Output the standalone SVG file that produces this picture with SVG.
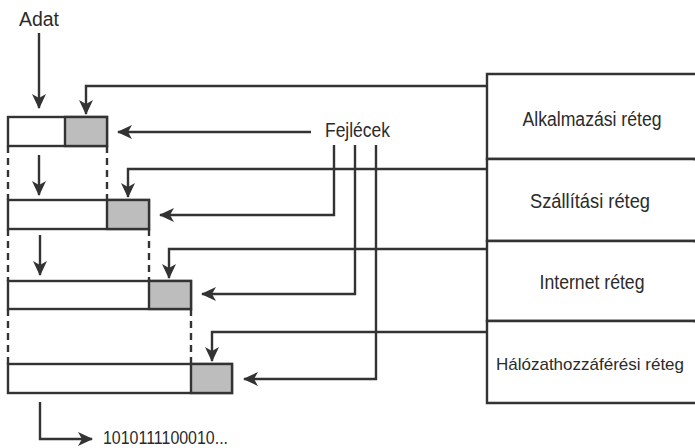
<svg xmlns="http://www.w3.org/2000/svg" width="695" height="448" viewBox="0 0 695 448">
<style>
  .ln{fill:none;stroke:#333;stroke-width:2.4}
  .arr{fill:none;stroke:#333;stroke-width:2.4;marker-end:url(#ah)}
  .dash{fill:none;stroke:#333;stroke-width:2.4;stroke-dasharray:7 5}
  .box{fill:#fff;stroke:#333;stroke-width:2.4}
  .hdr{fill:#bdbdbd;stroke:#333;stroke-width:2.4}
  .bg{fill:#fff;stroke:none}
  .t{font-family:"Liberation Sans",Arial,sans-serif;font-size:20px;fill:#2b2b2b}
  .c{text-anchor:middle}
</style>
<defs>
  <marker id="ah" viewBox="0 0 15 14" refX="14" refY="7" markerWidth="15" markerHeight="14" markerUnits="userSpaceOnUse" orient="auto">
    <path d="M0,0 L15,7 L0,14 L4,7 z" fill="#333"/>
  </marker>
</defs>

<g id="layers">
  <g id="layer-app">
    <rect class="bg" x="487" y="74" width="206" height="85"/>
    <path class="ln" d="M695,74 H487 V159 H695"/>
    <text class="t c" x="592" y="126" textLength="139" lengthAdjust="spacingAndGlyphs">Alkalmazási réteg</text>
  </g>
  <g id="layer-transport">
    <rect class="bg" x="487" y="159" width="206" height="82"/>
    <path class="ln" d="M695,159 H487 V241 H695"/>
    <text class="t c" x="590" y="208" textLength="120" lengthAdjust="spacingAndGlyphs">Szállítási réteg</text>
  </g>
  <g id="layer-internet">
    <rect class="bg" x="487" y="241" width="206" height="80"/>
    <path class="ln" d="M695,241 H487 V321 H695"/>
    <text class="t c" x="592" y="289" textLength="105" lengthAdjust="spacingAndGlyphs">Internet réteg</text>
  </g>
  <g id="layer-link">
    <rect class="bg" x="487" y="321" width="206" height="82"/>
    <path class="ln" d="M695,321 H487 V403 H695"/>
    <text class="t c" x="590" y="370" style="font-size:17px">Hálózathozzáférési réteg</text>
  </g>
</g>

<g id="packets">
  <g id="packet-1">
    <rect class="box" x="8" y="117" width="99" height="29"/>
    <rect class="hdr" x="65" y="117" width="42" height="29"/>
  </g>
  <g id="packet-2">
    <rect class="box" x="8" y="200" width="141" height="29"/>
    <rect class="hdr" x="107" y="200" width="42" height="29"/>
  </g>
  <g id="packet-3">
    <rect class="box" x="8" y="281" width="183" height="28"/>
    <rect class="hdr" x="149" y="281" width="42" height="28"/>
  </g>
  <g id="packet-4">
    <rect class="box" x="8" y="364" width="224" height="29"/>
    <rect class="hdr" x="191" y="364" width="41" height="29"/>
  </g>
</g>

<g id="label-adat">
  <text class="t" x="19" y="26" textLength="40" lengthAdjust="spacingAndGlyphs">Adat</text>
</g>
<g id="label-fejlecek">
  <text class="t" x="325" y="137" textLength="65" lengthAdjust="spacingAndGlyphs">Fejlécek</text>
</g>
<g id="label-bits">
  <text class="t" x="103" y="444" style="font-size:18px" textLength="125" lengthAdjust="spacingAndGlyphs">1010111100010...</text>
</g>

<g id="connectors">
  <!-- data flow down -->
  <path class="arr" d="M39,33 V108"/>
  <path class="arr" d="M39,155 V195"/>
  <path class="arr" d="M40,235 V275"/>
  <path class="arr" d="M40,402 V439 H92"/>
  <!-- dashed alignment lines -->
  <path class="dash" d="M8,146 V200"/>
  <path class="dash" d="M107,146 V200"/>
  <path class="dash" d="M8,229 V281"/>
  <path class="dash" d="M149,229 V281"/>
  <path class="dash" d="M8,309 V364"/>
  <path class="dash" d="M191,309 V364"/>
  <!-- layers to headers -->
  <path class="arr" d="M487,86 H86 V114"/>
  <path class="arr" d="M487,169 H128 V197"/>
  <path class="arr" d="M487,249 H169 V278"/>
  <path class="arr" d="M487,332 H212 V361"/>
  <!-- Fejlécek to packets -->
  <path class="arr" d="M311,132 H118"/>
  <path class="arr" d="M334,145 V215 H160"/>
  <path class="arr" d="M355,145 V294 H202"/>
  <path class="arr" d="M376,145 V379 H244"/>
</g>
</svg>
